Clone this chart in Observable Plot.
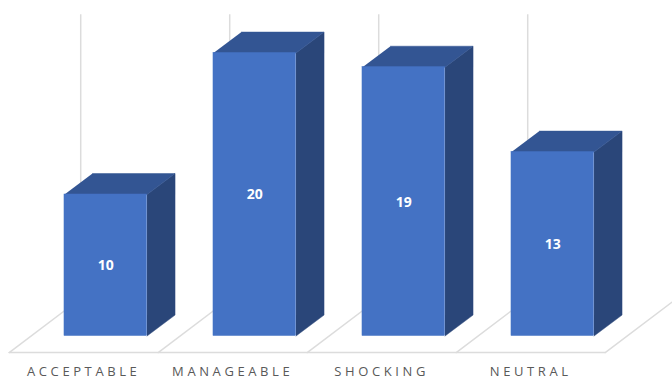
<!DOCTYPE html>
<html>
<head>
<meta charset="utf-8">
<script src="https://cdn.jsdelivr.net/npm/d3@7"></script>
<script src="https://cdn.jsdelivr.net/npm/@observablehq/plot@0.6"></script>
<style>
  html, body { margin: 0; padding: 0; background: #fff; overflow: hidden; }
  svg { display: block; }
  .category-label text { letter-spacing: 3.6px; }
</style>
</head>
<body>
<div id="chart"></div>
<script>
const categories = ["ACCEPTABLE", "MANAGEABLE", "SHOCKING", "NEUTRAL"];
const counts = [10, 20, 19, 13];

// Oblique projection, in data units: half a column's width, and how far
// the depth axis shifts a point to the right and upwards.
const halfWidth = 0.277;
const depthX = 0.188;
const depthY = 1.48;

// The floor and wall planes of the pseudo-3D box.
const floorFront = -1.17;
const floorBack = 2.65;
const wallTop = 22.7;
const slotLeft = -0.648;
const wallShift = 0.48;
const labelShift = -0.148;

const bars = categories.map((name, i) => ({name, i, value: counts[i]}));

// One polygon per bar for the side and top faces of each column.
const sideFaces = bars.flatMap(d => {
  const r = d.i + halfWidth;
  return [[r, 0], [r + depthX, depthY], [r + depthX, d.value + depthY], [r, d.value]]
    .map(([x, y]) => ({x, y, key: d.i}));
});
const topFaces = bars.flatMap(d => {
  const l = d.i - halfWidth, r = d.i + halfWidth;
  return [[l, d.value], [r, d.value], [r + depthX, d.value + depthY], [l + depthX, d.value + depthY]]
    .map(([x, y]) => ({x, y, key: d.i}));
});

// Slanted floor dividers between categories and the outline along the front.
const dividers = d3.range(categories.length + 1).flatMap(i => [
  {x: slotLeft + i, y: floorFront, key: i},
  {x: slotLeft + i + wallShift, y: floorBack, key: i}
]);
const frontEdge = [
  {x: slotLeft, y: floorFront},
  {x: slotLeft + categories.length, y: floorFront}
];
const wallLines = d3.range(categories.length).map(i => ({x: slotLeft + i + wallShift}));

const gridColor = "#dcdcdc";

const plot = Plot.plot({
  width: 672,
  height: 376,
  marginTop: 0, marginRight: 0, marginBottom: 0, marginLeft: 0,
  style: {background: "#fff", overflow: "hidden"},
  x: {type: "linear", axis: null, domain: [-105.25 / 149, (672 - 105.25) / 149], range: [0, 672]},
  y: {type: "linear", axis: null, domain: [(335.5 - 376) / 14.15, 335.5 / 14.15], range: [376, 0]},
  marks: [
    Plot.ruleX(wallLines, {x: "x", y1: floorBack, y2: wallTop, stroke: gridColor, strokeWidth: 1.5}),
    Plot.line(dividers, {x: "x", y: "y", z: "key", stroke: gridColor, strokeWidth: 1.5}),
    Plot.line(frontEdge, {x: "x", y: "y", stroke: gridColor, strokeWidth: 1.5}),
    Plot.line(sideFaces, {x: "x", y: "y", z: "key", fill: "#2a4679", stroke: "#2a4679", strokeWidth: 0.5}),
    Plot.line(topFaces, {x: "x", y: "y", z: "key", fill: "#335593", stroke: "#335593", strokeWidth: 0.5}),
    Plot.rectY(bars, {
      x1: d => d.i - halfWidth, x2: d => d.i + halfWidth, y1: 0, y2: "value",
      fill: "#4472c4", stroke: "#4472c4", strokeWidth: 0.5
    }),
    Plot.text(bars, {
      x: "i", y: d => d.value / 2, text: d => String(d.value), dy: 0.5,
      fill: "#fff", fontSize: 14, fontWeight: 700, fontFamily: "'Open Sans', sans-serif"
    }),
    Plot.text(bars, {
      x: d => d.i + labelShift, y: floorFront, text: "name", dy: 19,
      className: "category-label",
      fill: "#595959", fontSize: 13, fontFamily: "'Open Sans', sans-serif"
    })
  ]
});
document.getElementById("chart").append(plot);
</script>
</body>
</html>
